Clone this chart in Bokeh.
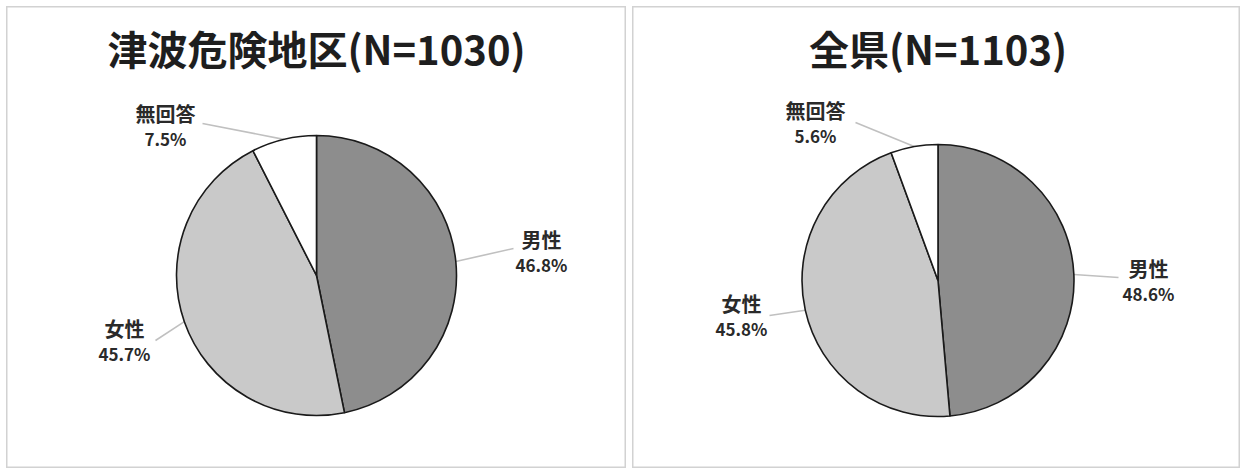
import numpy as np
from bokeh.plotting import figure
from bokeh.layouts import row, column
from bokeh.models import Range1d, ColumnDataSource, Spacer
from bokeh.core.properties import value
from bokeh.embed import file_html
from bokeh.resources import INLINE

# ---- data ----
categories = ["男性", "女性", "無回答"]
tsunami_values = [46.8, 45.7, 7.5]
prefecture_values = [48.6, 45.8, 5.6]
titles = ["津波危険地区(N=1030)", "全県(N=1103)"]

# ---- style / layout ----
colors = ["#8d8d8d", "#c9c9c9", "#ffffff"]
FONT = value("Noto Sans CJK JP")


def make_panel(title, vals, w, h, cx, cy, r, label_off, line_end):
    p = figure(width=w, height=h, x_range=Range1d(0, w), y_range=Range1d(0, h),
               output_backend="svg", toolbar_location=None, min_border=0)
    p.axis.visible = False
    p.grid.visible = False
    p.outline_line_color = "#d2d2d2"
    p.outline_line_width = 2
    p.background_fill_color = "white"
    p.border_fill_color = "white"

    v = np.array(vals, dtype=float)
    frac = v / v.sum()
    cum = np.concatenate([[0.0], np.cumsum(frac)])
    start = np.pi / 2 - 2 * np.pi * cum[:-1]
    end = np.pi / 2 - 2 * np.pi * cum[1:]
    mid = (start + end) / 2

    # leader lines
    x0 = cx + r * np.cos(mid)
    y0 = cy + r * np.sin(mid)
    x1 = [cx + d[0] for d in line_end]
    y1 = [cy + d[1] for d in line_end]
    p.segment(x0=list(x0), y0=list(y0), x1=x1, y1=y1,
              line_color="#c0c0c0", line_width=1.6)

    src = ColumnDataSource(dict(start=list(start), end=list(end), color=colors))
    p.wedge(x=cx, y=cy, radius=r, start_angle="start", end_angle="end",
            direction="clock", fill_color="color", line_color="#1a1a1a",
            line_width=1.6, source=src)

    lx = [cx + d[0] for d in label_off]
    ly = [cy + d[1] for d in label_off]
    p.text(x=lx, y=[y + 12.5 for y in ly], text=categories,
           text_align="center", text_baseline="middle",
           text_font=FONT, text_font_size="20px", text_font_style="bold",
           text_color="#2a2a2a")
    p.text(x=lx, y=[y - 12.5 for y in ly], text=[f"{x:.1f}%" for x in vals],
           text_align="center", text_baseline="middle",
           text_font=FONT, text_font_size="17px", text_font_style="bold",
           text_color="#2a2a2a")

    p.text(x=[cx], y=[421], text=[title], text_align="center",
           text_baseline="middle", text_font=FONT, text_font_size="40px",
           text_font_style="bold", text_color="#1e1e1e")
    return p


p1 = make_panel(titles[0], tsunami_values, 620, 462, 310, 193, 140,
                label_off=[(225, 23.5), (-192, -65.5), (-151, 149.5)],
                line_end=[(197, 27), (-161, -65), (-114, 152)])
p2 = make_panel(titles[1], prefecture_values, 608, 462, 305.5, 188, 136,
                label_off=[(210.5, 0), (-196.5, -35), (-122.5, 157.5)],
                line_end=[(180.5, 3), (-168.5, -35), (-82.5, 158)])

layout = column([Spacer(height=6),
                 row([Spacer(width=6), p1, p2], spacing=0)], spacing=0)
# gap between panels
p2.min_border_left = 0
layout = column([Spacer(height=6),
                 row([Spacer(width=6), p1, Spacer(width=6), p2], spacing=0)],
                spacing=0)
open("out.html", "w").write(file_html(layout, INLINE))
